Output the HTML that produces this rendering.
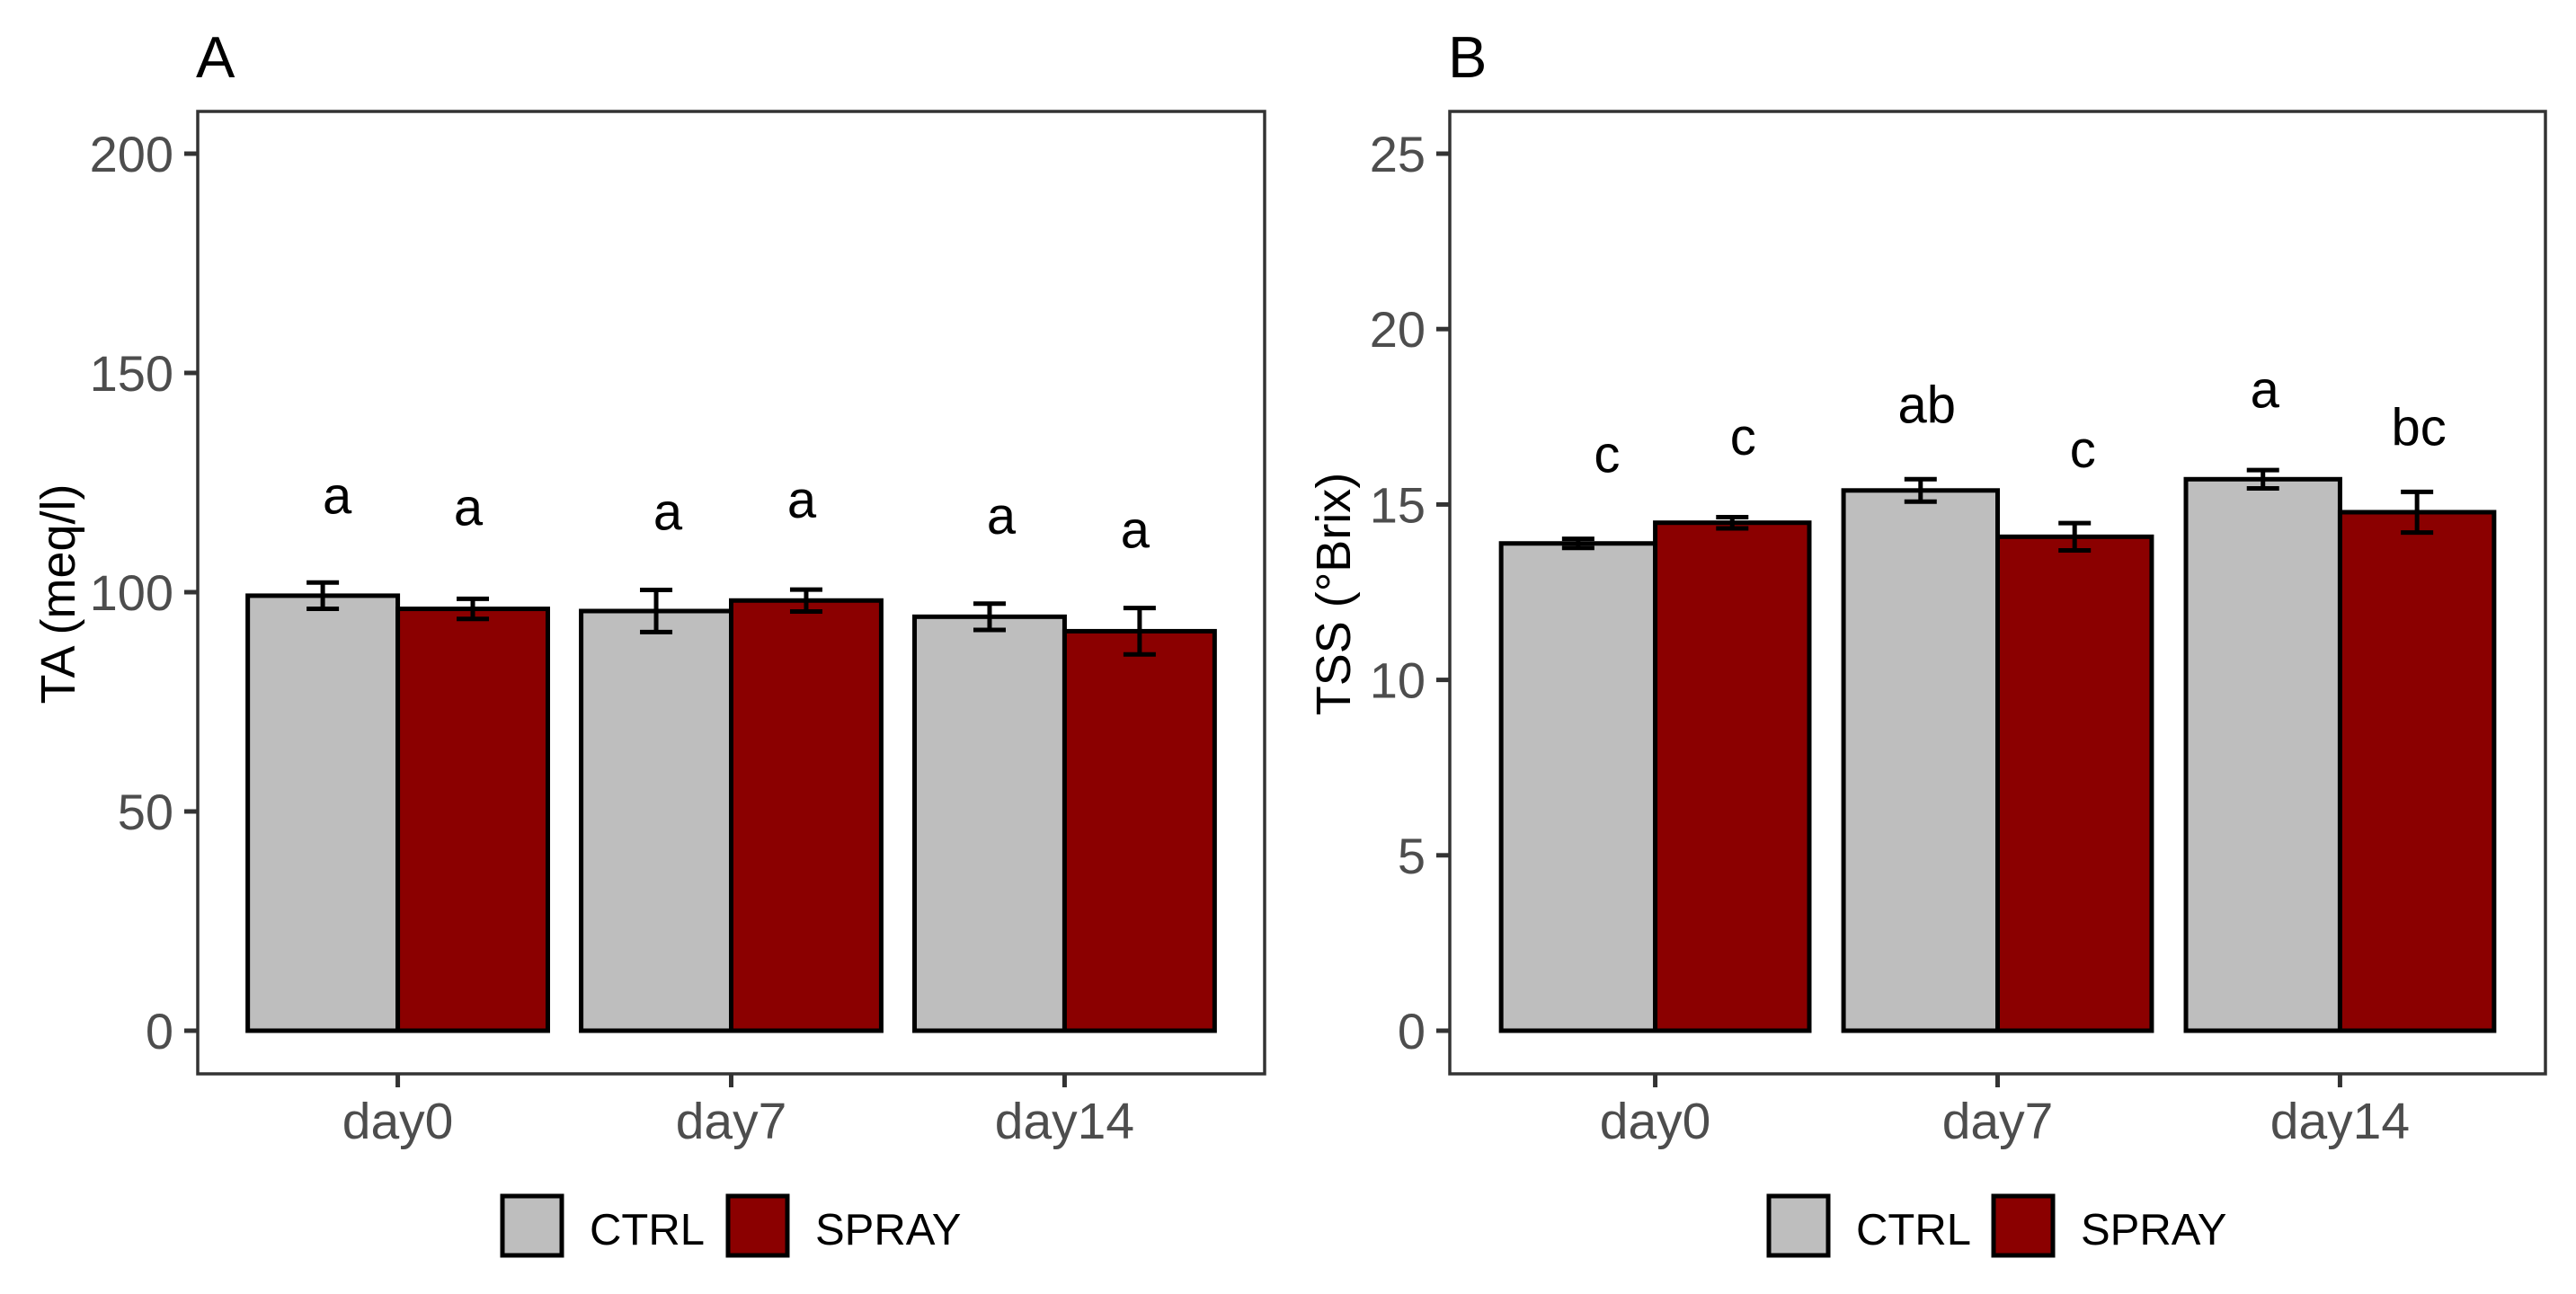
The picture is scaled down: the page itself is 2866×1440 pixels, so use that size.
<!DOCTYPE html>
<html><head><meta charset="utf-8"><style>
html,body{margin:0;padding:0;background:#fff}
svg{display:block}
text{font-family:"Liberation Sans",Arial,sans-serif}
</style></head><body>
<svg id="chart" width="2866" height="1440" viewBox="0 0 2866 1440" xmlns="http://www.w3.org/2000/svg"></svg>
<script>
const categories = ["day0","day7","day14"];
const groups = ["CTRL","SPRAY"];
// Panel A: TA (meq/l)
const taCtrl = [99.2, 95.7, 94.4];
const taSpray = [96.2, 98.1, 91.1];
const taCtrlSe = [3.0, 4.8, 3.0];
const taSpraySe = [2.3, 2.5, 5.3];
const taCtrlLetters = ["a","a","a"];
const taSprayLetters = ["a","a","a"];
const taCtrlLetterY = [121, 117.3, 116.4];
const taSprayLetterY = [118.3, 120.1, 113.2];
const taTicks = [0, 50, 100, 150, 200];
// Panel B: TSS (°Brix)
const tssCtrl = [13.89, 15.40, 15.72];
const tssSpray = [14.48, 14.08, 14.78];
const tssCtrlSe = [0.13, 0.32, 0.26];
const tssSpraySe = [0.16, 0.39, 0.58];
const tssCtrlLetters = ["c","ab","a"];
const tssSprayLetters = ["c","c","bc"];
const tssCtrlLetterY = [16.3, 17.84, 18.15];
const tssSprayLetterY = [16.8, 16.45, 17.2];
const tssTicks = [0, 5, 10, 15, 20, 25];

const NS = "http://www.w3.org/2000/svg";
const svg = document.getElementById("chart");
function mk(tag, attrs, parent, txt){
  const e = document.createElementNS(NS, tag);
  for (const k in attrs) e.setAttribute(k, attrs[k]);
  if (txt !== undefined) e.textContent = txt;
  (parent || svg).appendChild(e);
  return e;
}
const fills = ["#bebebe","#8b0000"];

function panel(cfg){
  const g = mk("g", {});
  
  
  const L = cfg.left, R = cfg.right, T = 124, B = 1195, y0 = 1147, yTop = 171;
  const yMax = cfg.ticks[cfg.ticks.length-1];
  const y = v => y0 - (v / yMax) * (y0 - yTop);
  const step = (R - L) / 3.2;
  const x = i => L + (i + 0.6) * step;
  const bw = step * 0.45;
  const t = mk("text", {x: L - 2, y: 86, "font-size": 65, fill: "#000"}, g, cfg.title);
  
  
  const series = [cfg.ctrl, cfg.spray], ses = [cfg.ctrlSe, cfg.spraySe];
  const letters = [cfg.ctrlL, cfg.sprayL], ly = [cfg.ctrlLY, cfg.sprayLY];
  categories.forEach((c, i) => {
    series.forEach((s, j) => {
      const bx = x(i) - bw + j * bw;
      const r = mk("rect", {x: bx, y: y(s[i]), width: bw, height: y(0) - y(s[i]), fill: fills[j], stroke: "#000", "stroke-width": 5}, g);
      
      
    });
  });
  categories.forEach((c, i) => {
    series.forEach((s, j) => {
      const cx = x(i) - bw / 2 + j * bw;
      const hi = y(s[i] + ses[j][i]), lo = y(s[i] - ses[j][i]);
      const eb = mk("path", {d: `M${cx-18},${hi}H${cx+18}M${cx},${hi}V${lo}M${cx-18},${lo}H${cx+18}`, stroke: "#000", "stroke-width": 5, fill: "none"}, g);
      
      
      const lab = letters[j][i];
      const asc = /[bdfhklt]/.test(lab);
      const lt = mk("text", {x: cx + cfg.nudge[j][i], y: y(ly[j][i]) + (asc ? 20 : 15), "font-size": 58, "text-anchor": "middle", fill: "#000"}, g, lab);
      
      
    });
  });
  const fr = mk("rect", {x: L, y: T, width: R - L, height: B - T, fill: "none", stroke: "#333", "stroke-width": 3.5}, g);
  
  
  cfg.ticks.forEach(v => {
    const tk = mk("line", {x1: L - 15, x2: L, y1: y(v), y2: y(v), stroke: "#333", "stroke-width": 5}, g);
    
    
    const tl = mk("text", {x: L - 27, y: y(v) + 20, "font-size": 56, "text-anchor": "end", fill: "#4d4d4d"}, g, String(v));
    
    
  });
  categories.forEach((c, i) => {
    const tk = mk("line", {x1: x(i), x2: x(i), y1: B, y2: B + 15, stroke: "#333", "stroke-width": 5}, g);
    
    
    const tl = mk("text", {x: x(i), y: 1267, "font-size": 57, "text-anchor": "middle", fill: "#4d4d4d"}, g, c);
    
    
  });
  const yt = mk("text", {x: 0, y: 0, "font-size": 54, "text-anchor": "middle", fill: "#000", transform: `translate(${cfg.ytX},661) rotate(-90)`}, g, cfg.ytitle);
  
  
  const lg = mk("g", {}, g);
  
  
  groups.forEach((gname, j) => {
    const kx = cfg.legX[j];
    const k = mk("rect", {x: kx, y: 1331, width: 66, height: 66, fill: fills[j], stroke: "#000", "stroke-width": 5}, lg);
    
    
    const lt = mk("text", {x: kx + 97, y: 1385, "font-size": 49, fill: "#000"}, lg, gname);
    
    
  });
}

panel({name: "panel-a-ta", title: "A", left: 220, right: 1407, ticks: taTicks,
  ctrl: taCtrl, spray: taSpray, ctrlSe: taCtrlSe, spraySe: taSpraySe,
  ctrlL: taCtrlLetters, sprayL: taSprayLetters, ctrlLY: taCtrlLetterY, sprayLY: taSprayLetterY,
  nudge: [[16, 13, 13], [-5, -5, -5]],
  ytitle: "TA (meq/l)", ytX: 83, legX: [559, 810]});
panel({name: "panel-b-tss", title: "B", left: 1613, right: 2832, ticks: tssTicks,
  ctrl: tssCtrl, spray: tssSpray, ctrlSe: tssCtrlSe, spraySe: tssSpraySe,
  ctrlL: tssCtrlLetters, sprayL: tssSprayLetters, ctrlLY: tssCtrlLetterY, sprayLY: tssSprayLetterY,
  nudge: [[32, 7, 2], [12, 9, 2]],
  ytitle: "TSS (°Brix)", ytX: 1502, legX: [1968, 2218]});
</script>
</body></html>
